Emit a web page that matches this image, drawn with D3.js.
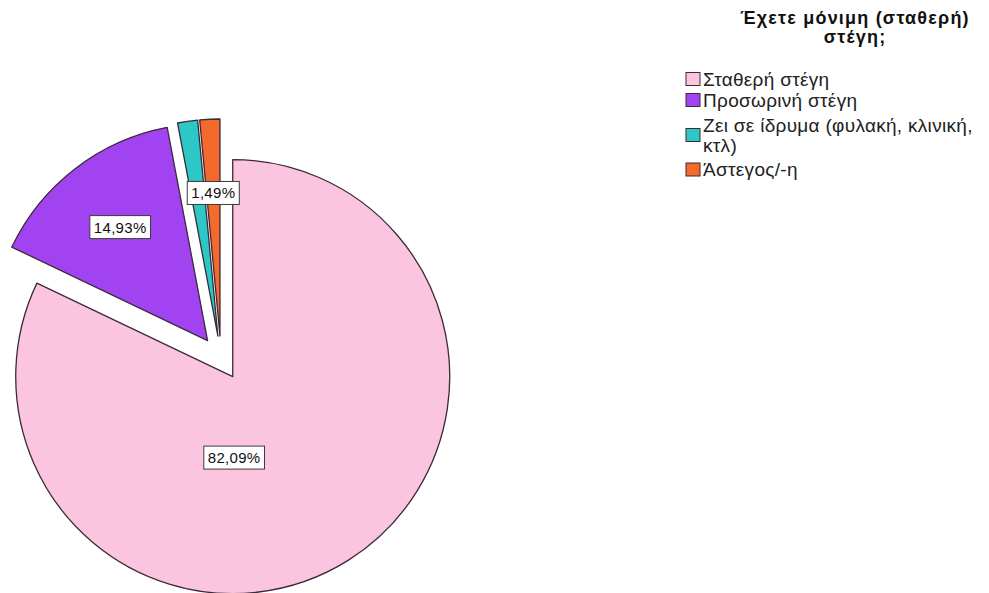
<!DOCTYPE html>
<html>
<head>
<meta charset="utf-8">
<script src="https://cdn.jsdelivr.net/npm/d3@7"></script>
<style>
  body { margin: 0; background: #fff; }
  svg { display: block; font-family: "Liberation Sans", Arial, sans-serif; }
</style>
</head>
<body>
<div id="chart"></div>
<script>
// data
var categories = ["Σταθερή στέγη", "Προσωρινή στέγη", "Ζει σε ίδρυμα (φυλακή, κλινική, κτλ)", "Άστεγος/-η"];
var legendLines = [["Σταθερή στέγη"], ["Προσωρινή στέγη"], ["Ζει σε ίδρυμα (φυλακή, κλινική,", "κτλ)"], ["Άστεγος/-η"]];
var percents = [82.09, 14.93, 1.49, 1.49];
var colors = ["#fbc4df", "#a243f1", "#2dc8c5", "#f4692c"];
var titleLines = ["Έχετε μόνιμη (σταθερή)", "στέγη;"];

// layout
var width = 989, height = 593;
var cx = 221, cy = 358, radius = 217, explode = 22;
var labelFrac = 0.66;
// SPSS drops the big slice's label near the bottom of the pie
var bigLabel = {angle: 179, dist: 81};

var svg = d3.select("#chart").append("svg")
    .attr("width", width)
    .attr("height", height);

var pie = d3.pie().sort(null).value(function(d) { return d; });
var arcs = pie(percents);
var arc = d3.arc().innerRadius(0).outerRadius(radius);

function offset(a, d) {
  return [Math.sin(a) * d, -Math.cos(a) * d];
}

var g = svg.append("g").attr("transform", "translate(" + cx + "," + cy + ")");

var slices = g.selectAll(".slice")
  .data(arcs)
  .enter()
  .append("g")
    .attr("class", "slice")
    .attr("transform", function(d) {
      var o = offset((d.startAngle + d.endAngle) / 2, explode);
      return "translate(" + o[0] + "," + o[1] + ")";
    });

slices.append("path")
  .attr("d", arc)
  .attr("fill", function(d, i) { return colors[i]; })
  .attr("stroke", "#3b2a3a")
  .attr("stroke-width", 1.3)
  .attr("stroke-linejoin", "round");

// labels, drawn from last to first, skip ones that collide
var placed = [];
var fmt = function(v) { return v.toFixed(2).replace(".", ",") + "%"; };
var order = d3.range(arcs.length).reverse();
order.forEach(function(i) {
  var d = arcs[i];
  var mid = (d.startAngle + d.endAngle) / 2;
  var apex = offset(mid, explode);
  var p;
  if (d.endAngle - d.startAngle > Math.PI) {
    var q = offset(bigLabel.angle * Math.PI / 180, bigLabel.dist);
    p = [apex[0] + q[0], apex[1] + q[1]];
  } else {
    var q2 = offset(mid, radius * labelFrac);
    p = [apex[0] + q2[0], apex[1] + q2[1]];
  }
  var lg = g.append("g").attr("transform", "translate(" + p[0] + "," + p[1] + ")");
  var t = lg.append("text")
    .attr("text-anchor", "middle")
    .attr("dy", "0.36em")
    .style("font-size", "15px")
    .style("letter-spacing", "0.3px")
    .attr("fill", "#111")
    .text(fmt(percents[i]));
  var bb = t.node().getBBox();
  var box = {x0: p[0] + bb.x - 4, x1: p[0] + bb.x + bb.width + 4, y0: p[1] - 11.5, y1: p[1] + 11.5};
  var hit = placed.some(function(b) { return !(box.x1 < b.x0 || box.x0 > b.x1 || box.y1 < b.y0 || box.y0 > b.y1); });
  if (hit) { lg.remove(); return; }
  placed.push(box);
  lg.insert("rect", "text")
    .attr("x", bb.x - 4)
    .attr("y", -11.5)
    .attr("width", bb.width + 8)
    .attr("height", 23)
    .attr("fill", "#fff")
    .attr("stroke", "#3b3b3b")
    .attr("stroke-width", 1);
});

// legend
var legendX = 686, titleX = 855;
svg.append("text")
  .attr("x", titleX)
  .attr("y", 24)
  .attr("text-anchor", "middle")
  .style("font-size", "18px")
  .style("font-weight", "bold")
  .style("letter-spacing", "1.2px")
  .attr("fill", "#111")
  .selectAll("tspan")
  .data(titleLines)
  .enter()
  .append("tspan")
    .attr("x", titleX)
    .attr("dy", function(d, i) { return i === 0 ? 0 : 19; })
    .text(function(d) { return d; });

var itemY = [79, 100, 135, 169.5];
var lineH = 20;
var items = svg.selectAll(".legend-item")
  .data(categories)
  .enter()
  .append("g")
    .attr("class", "legend-item")
    .attr("transform", function(d, i) { return "translate(" + legendX + "," + itemY[i] + ")"; });

items.append("rect")
  .attr("x", 0)
  .attr("y", -6.5)
  .attr("width", 14)
  .attr("height", 13)
  .attr("fill", function(d, i) { return colors[i]; })
  .attr("stroke", "#3b2a3a")
  .attr("stroke-width", 1);

items.append("text")
  .attr("x", 17)
  .style("font-size", "19px")
  .style("letter-spacing", "0.3px")
  .attr("fill", "#222")
  .each(function(d, i) {
    var lines = legendLines[i];
    var start = -(lines.length - 1) * lineH / 2;
    d3.select(this).selectAll("tspan")
      .data(lines)
      .enter()
      .append("tspan")
        .attr("x", 17)
        .attr("y", function(l, j) { return start + j * lineH; })
        .attr("dy", "0.36em")
        .text(function(l) { return l; });
  });
</script>
</body>
</html>
